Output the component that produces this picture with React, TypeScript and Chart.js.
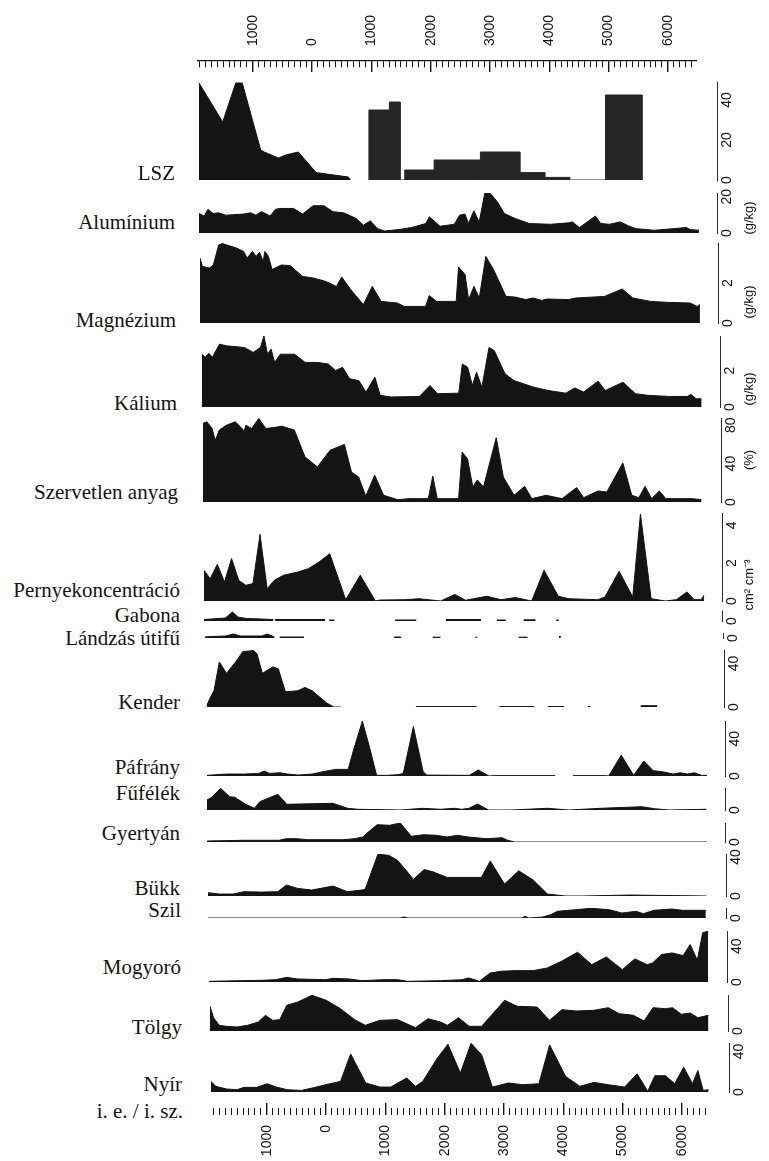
import React, { useEffect, useRef } from 'react';
import { Chart, registerables } from 'chart.js';
Chart.register(...registerables);
Chart.defaults.font.family = '"Liberation Sans", Arial, sans-serif';

// ---------------- DATA ----------------
// x values are years on the shared time axis (negative = left of "0")
const AXIS_MAJOR_TICKS = [-1000, 0, 1000, 2000, 3000, 4000, 5000, 6000];
const AXIS_TICK_LABELS = ['1000', '0', '1000', '2000', '3000', '4000', '5000', '6000'];
const AXIS_MINOR_FROM = -1900;
const AXIS_MINOR_TO = 6400;
const AXIS_MINOR_STEP = 100;
const AXIS_CAPTION = 'i. e. / i. sz.';

const SERIES_NAMES = ['LSZ', 'Alumínium', 'Magnézium', 'Kálium', 'Szervetlen anyag', 'Pernyekoncentráció',
  'Gabona', 'Lándzás útifű', 'Kender', 'Páfrány', 'Fűfélék', 'Gyertyán', 'Bükk', 'Szil', 'Mogyoró', 'Tölgy', 'Nyír'];
const SERIES_UNITS = ['', '(g/kg)', '(g/kg)', '(g/kg)', '(%)', 'cm² cm⁻³', '', '', '', '', '', '', '', '', '', '', ''];

const LSZ_TICKS = [0, 20, 40];
const LSZ_LINE_X = [-1940, -1540, -1320, -1210, -900, -840, -600, -480, -265, 35, 580, 610];
const LSZ_LINE_Y = [48.5, 29, 48.5, 48.5, 15, 14, 11, 12.5, 14, 3.7, 1.5, 0];
const LSZ_BAR_START = [925, 1270, 1530, 2025, 2805, 3470, 3890, 4915];
const LSZ_BAR_END = [1270, 1450, 2025, 2805, 3470, 3890, 4310, 5530];
const LSZ_BAR_VALUE = [35, 39, 5, 10, 14, 3.7, 1.3, 42.5];

const AL_TICKS = [0, 20];
const AL_X = [-1940, -1850, -1790, -1700, -1610, -1490, -1190, -1070, -980, -890, -800, -740, -650, -585, -345, -195, -15, 165, 320, 500, 710, 830, 950, 1070, 1190, 1430, 1645, 1885, 1945, 2125, 2365, 2455, 2545, 2605, 2695, 2785, 2880, 2970, 3090, 3210, 3390, 3630, 3990, 4295, 4355, 4475, 4745, 4835, 4985, 5165, 5315, 5435, 5740, 6280, 6340, 6490];
const AL_Y = [10.7, 9.3, 13, 10.7, 11.1, 9.8, 10.4, 11.1, 9.8, 11.7, 10.4, 9.3, 13, 13.5, 13.5, 10.4, 15, 15, 11.7, 11.1, 8, 4.3, 6.7, 2.4, 1.1, 1.9, 3, 5.2, 8.9, 3.7, 4.8, 9.8, 10.4, 5.2, 12.2, 6.1, 21.9, 21.9, 17.2, 10.7, 8, 5.2, 4.8, 5.6, 6.1, 3, 9.3, 5.2, 4.8, 6.1, 3.7, 2.4, 1.5, 3, 1.9, 1.5];

const MG_TICKS = [0, 2];
const MG_X = [-1940, -1900, -1780, -1715, -1625, -1565, -1325, -1205, -1145, -1055, -995, -935, -875, -845, -785, -725, -570, -420, -210, -30, 180, 360, 450, 600, 815, 965, 1115, 1385, 1505, 1865, 1925, 2050, 2380, 2420, 2530, 2590, 2680, 2770, 2880, 3010, 3220, 3370, 3555, 3675, 3825, 3915, 4275, 4395, 4880, 5180, 5360, 5660, 5960, 6325, 6445, 6490];
const MG_Y = [3.25, 2.83, 2.75, 2.9, 3.9, 3.97, 3.75, 3.58, 3.25, 3.58, 3.33, 3.53, 3.08, 3.58, 3.33, 2.67, 2.9, 2.87, 2.33, 2.25, 2.08, 1.83, 2.3, 1.67, 0.92, 1.83, 1.08, 1.0, 0.83, 0.83, 1.37, 1.08, 1.08, 2.8, 2.42, 1.17, 1.83, 1.25, 3.33, 2.67, 1.33, 1.3, 1.17, 1.25, 1.13, 1.2, 1.17, 1.25, 1.33, 1.7, 1.25, 1.08, 1.03, 1.0, 0.83, 0.92];

const K_TICKS = [0, 2];
const K_X = [-1940, -1885, -1825, -1765, -1645, -1525, -1225, -1075, -955, -895, -835, -775, -715, -620, -380, -200, 10, 190, 310, 430, 550, 705, 825, 975, 1065, 1245, 1725, 1905, 2030, 2390, 2450, 2540, 2620, 2690, 2780, 2900, 2990, 3170, 3320, 3655, 3895, 4195, 4345, 4495, 4740, 4860, 5160, 5370, 5580, 5940, 6245, 6305, 6395, 6485];
const K_Y = [2.9, 2.73, 2.95, 2.73, 3.45, 3.36, 3.27, 3.0, 3.27, 3.9, 2.9, 3.18, 2.45, 2.9, 2.9, 2.45, 2.45, 2.36, 2.0, 2.18, 1.55, 1.45, 0.82, 1.64, 0.64, 0.55, 0.58, 1.18, 0.73, 0.76, 2.36, 2.18, 1.18, 1.91, 1.09, 3.27, 3.09, 1.82, 1.45, 1.09, 0.91, 0.76, 1.05, 0.82, 1.42, 0.91, 1.36, 0.73, 0.64, 0.58, 0.58, 0.69, 0.45, 0.45];

const SZERV_TICKS = [0, 40, 80];
const SZERV_X = [-1940, -1875, -1785, -1735, -1665, -1545, -1395, -1305, -1245, -1215, -1120, -1000, -880, -700, -610, -400, -220, -10, 205, 445, 565, 685, 805, 955, 1105, 1345, 1530, 1860, 1935, 2010, 2370, 2430, 2520, 2610, 2685, 2790, 3005, 3125, 3305, 3485, 3605, 3845, 4115, 4360, 4480, 4720, 4870, 5140, 5290, 5410, 5515, 5625, 5755, 5865, 6315, 6465];
const SZERV_Y = [82, 83.5, 76.5, 64, 75, 80, 83.5, 78, 74, 80, 76.5, 87, 76.5, 78, 79, 75, 47, 36.5, 54, 60, 31, 26, 6, 28, 7, 2.4, 3.5, 3.5, 27, 3.5, 3.5, 52, 45, 15.7, 23, 15.7, 67, 26, 7, 16.3, 3.5, 7, 3.5, 15, 4.5, 11.5, 10.4, 40.7, 7, 4.5, 16.3, 3.5, 11.5, 3.5, 3.5, 2.4];

const PERNY_TICKS = [0, 2, 4];
const PERNY_X = [-1940, -1835, -1715, -1595, -1475, -1355, -1235, -1115, -995, -875, -755, -600, -360, -180, 0, 180, 450, 695, 950, 1025, 1445, 1685, 2050, 2290, 2470, 2830, 3070, 3310, 3585, 3795, 4035, 4215, 4700, 4820, 5060, 5290, 5420, 5600, 5840, 6025, 6205, 6325, 6445, 6490];
const PERNY_Y = [1.62, 1.18, 1.94, 1.0, 2.24, 1.09, 0.83, 0.92, 3.52, 0.65, 1.09, 1.36, 1.53, 1.71, 2.06, 2.5, 0.07, 1.36, 0, 0.05, 0.07, 0.12, 0, 0.35, 0.04, 0.25, 0.07, 0.18, 0, 1.62, 0.25, 0.12, 0.07, 0.21, 1.57, 0.21, 4.6, 0.12, 0, 0.07, 0.48, 0.07, 0.07, 0.3];

const GABONA_TICKS = [0];
const GABONA_X = [-1940, -1820, -1580, -1460, -1370, -1220, -980, -770, -755, -740, -300, 100, 135, 170, 260, 800, 1280, 1640, 1900, 2140, 2730, 2860, 3000, 3150, 3300, 3450, 3650, 3800, 4000, 4040];
const GABONA_Y = [1.5, 2, 3, 9, 4, 2.5, 2, 1.5, null, 1.5, 1.5, 1.5, null, 1, 1, null, 1, 1, null, 1.5, 1.5, null, 1, 1, null, 1.2, 1.2, null, 1, 1];

const LANDZAS_TICKS = [0];
const LANDZAS_X = [-1940, -1830, -1590, -1460, -1340, -980, -890, -770, -720, -680, -270, 500, 1250, 1370, 1600, 1900, 2030, 2300, 2620, 2650, 3000, 3350, 3500, 3800, 4030, 4060];
const LANDZAS_Y = [1, 1.5, 2, 4, 2, 2, 4, 1, null, 1, 1, null, 1, 1, null, 0.8, 0.8, null, 0.8, 0.8, null, 0.8, 0.8, null, 1.5, 1.5];

const KENDER_TICKS = [0, 40];
const KENDER_X = [-1925, -1865, -1805, -1715, -1595, -1440, -1320, -1140, -1080, -990, -900, -810, -720, -600, -390, -270, -150, 95, 215, 335, 960, 1600, 2620, 2800, 3010, 3590, 3700, 3830, 4100, 4300, 4500, 4540, 5000, 5390, 5670];
const KENDER_Y = [1.5, 9, 15, 41.5, 31, 41.5, 51, 52, 49, 31, 34, 37, 35, 14, 15, 18, 15, 3.7, 0, 0, null, 0.4, 0.4, null, 0.4, 0.4, null, 0.4, 0.4, null, 0.4, 0.4, null, 1.2, 1.2];

const PAFRANY_TICKS = [0, 40];
const PAFRANY_X = [-1940, -1610, -1310, -1070, -975, -885, -705, -585, -405, -165, 15, 225, 440, 530, 680, 800, 920, 1100, 1280, 1370, 1540, 1705, 1765, 2485, 2635, 2815, 2905, 3930, 3990, 4230, 4775, 4835, 5045, 5255, 5425, 5585, 5740, 5920, 6040, 6160, 6280, 6400, 6490];
const PAFRANY_Y = [0.7, 2.1, 2.1, 2.8, 5.3, 2.8, 3.5, 2.1, 1, 2.1, 4.6, 7.1, 7.1, 27.6, 58.8, 31, 0.7, 0.7, 1.4, 2.8, 53, 4.6, 1, 0.7, 6.4, 0, 0.4, 0.4, null, 0.4, 0.4, 0, 22.3, 0.7, 16, 5.7, 4.6, 2.1, 3.5, 2.1, 3.5, 0.7, 0.7];

const FUFELEK_TICKS = [0];
const FUFELEK_X = [-1940, -1860, -1710, -1560, -1470, -1290, -1140, -1050, -745, -595, 185, 430, 610, 1330, 1695, 1995, 2235, 2355, 2475, 2625, 2805, 3200, 3800, 4160, 4705, 5395, 5605, 5850, 6480];
const FUFELEK_Y = [10, 12.7, 21.7, 13.3, 12.7, 5.7, 1.7, 8.3, 15.7, 5.7, 6.7, 1.7, 0.7, 0, 1.7, 0.7, 1.7, 0.7, 1.7, 6, 0, 0, 1.7, 0, 1.7, 3.3, 1.3, 0, 0.7];

const GYERTYAN_TICKS = [0];
const GYERTYAN_X = [-1940, -1330, -725, -605, -425, -245, 360, 540, 690, 780, 930, 1140, 1320, 1505, 1715, 1925, 2105, 2285, 2465, 2770, 3040, 3130, 3250, 6490];
const GYERTYAN_Y = [1, 1.7, 1.7, 3.3, 3.3, 2.3, 2.3, 3.3, 5, 10, 17.3, 16.7, 19, 5.7, 7.3, 6.7, 5, 6.7, 5, 3.3, 4.3, 1.7, 0, 0];

const BUKK_TICKS = [0, 40];
const BUKK_X = [-1940, -1755, -1515, -1335, -1035, -765, -615, -430, -190, 170, 410, 650, 710, 925, 1105, 1255, 1375, 1525, 1705, 1855, 2095, 2670, 2820, 3060, 3300, 3545, 3785, 4085, 4385, 5170, 6465];
const BUKK_Y = [3.4, 2, 2, 4.4, 4, 4.4, 11.2, 7.8, 6.1, 10.2, 4.4, 6.1, 6.8, 42.7, 41.7, 36.6, 28.1, 17, 27.1, 24.7, 19, 19, 35.9, 12.2, 25.8, 16.3, 2, 0, 0, 1, 0];

const SZIL_TICKS = [0];
const SZIL_X = [-1940, 1300, 1365, 1430, 3350, 3410, 3470, 3710, 3835, 3955, 4255, 4525, 4825, 5040, 5280, 5400, 5580, 5880, 6060, 6455];
const SZIL_Y = [0, 0, 1, 0, 0, 1.7, 0, 1, 3.3, 6.7, 8.3, 9.7, 8.3, 5, 6.7, 4.3, 7.7, 9, 7.7, 7.7];

const MOGYORO_TICKS = [0, 40];
const MOGYORO_X = [-1940, -1415, -1055, -815, -630, -450, 30, 150, 420, 635, 995, 1235, 1415, 1960, 2320, 2440, 2620, 2800, 2980, 3220, 3525, 3765, 4005, 4275, 4515, 4760, 5030, 5240, 5450, 5540, 5690, 5870, 6055, 6175, 6295, 6385, 6475];
const MOGYORO_Y = [0.7, 1.5, 1.9, 2.6, 5.2, 3.4, 2.6, 4.1, 3.4, 1.5, 2.6, 2.6, 0.7, 1.5, 2.6, 4.5, 0.7, 10, 12, 12.7, 12.7, 15.7, 23.2, 33.3, 19.4, 28, 13.8, 25.8, 19.4, 21.3, 30.7, 32.5, 29.5, 41.9, 24.3, 55, 56.8];

const TOLGY_TICKS = [0];
const TOLGY_X = [-1940, -1880, -1785, -1665, -1485, -1305, -1125, -1005, -885, -765, -645, -460, -220, 20, 260, 500, 680, 925, 1225, 1525, 1735, 1945, 2065, 2250, 2430, 2640, 3030, 3240, 3575, 3785, 3995, 4235, 4535, 4775, 4960, 5200, 5380, 5530, 5740, 5860, 6010, 6160, 6285, 6465];
const TOLGY_Y = [24.7, 13.3, 5.7, 4.7, 4, 5.7, 9, 15.7, 10.7, 11.3, 25.7, 29, 35.7, 30.7, 22.3, 11.3, 5.7, 10.7, 11.3, 3.3, 12.3, 9, 5.7, 13.3, 4.7, 4.7, 30.7, 24.7, 24, 10.7, 21.3, 20, 20.7, 23.3, 17.3, 15.7, 10, 23.3, 22.3, 23.3, 16.7, 18, 13.3, 15.7];

const NYIR_TICKS = [0, 40];
const NYIR_X = [-1940, -1860, -1680, -1500, -1380, -1170, -990, -840, -655, -415, -235, 65, 245, 415, 670, 910, 1090, 1360, 1510, 1630, 1875, 2055, 2265, 2445, 2625, 2805, 3075, 3320, 3590, 3770, 4040, 4280, 4520, 4765, 5035, 5245, 5425, 5545, 5725, 5880, 6030, 6180, 6270, 6360, 6450];
const NYIR_Y = [10.5, 5.6, 3, 2.3, 4.6, 4.6, 8.2, 4.9, 2.3, 1.6, 3.9, 8.2, 10.5, 37.7, 8.9, 4.9, 4.9, 13.8, 5.6, 10.5, 33.4, 47.2, 18.7, 48.2, 36.7, 4.9, 8.9, 7.2, 8.2, 46.6, 15.4, 5.6, 9.5, 7.2, 4.9, 18, 0.7, 16.1, 16.1, 8.2, 24.6, 8.2, 21.3, 1.6, 2.3];

// ---------------- helpers ----------------
type P = { x: number; y: number | null };
const pts = (xs: number[], ys: (number | null)[]): P[] => xs.map((x, i) => ({ x, y: ys[i] }));
const bars = (a: number[], b: number[], v: number[]): P[] =>
  a.flatMap((s, i) => [{ x: s, y: 0 }, { x: s, y: v[i] }, { x: b[i], y: v[i] }, { x: b[i], y: 0 }]);

const SERIES: { points: P[][]; ticks: number[] }[] = [
  { points: [pts(LSZ_LINE_X, LSZ_LINE_Y), bars(LSZ_BAR_START, LSZ_BAR_END, LSZ_BAR_VALUE)], ticks: LSZ_TICKS },
  { points: [pts(AL_X, AL_Y)], ticks: AL_TICKS },
  { points: [pts(MG_X, MG_Y)], ticks: MG_TICKS },
  { points: [pts(K_X, K_Y)], ticks: K_TICKS },
  { points: [pts(SZERV_X, SZERV_Y)], ticks: SZERV_TICKS },
  { points: [pts(PERNY_X, PERNY_Y)], ticks: PERNY_TICKS },
  { points: [pts(GABONA_X, GABONA_Y)], ticks: GABONA_TICKS },
  { points: [pts(LANDZAS_X, LANDZAS_Y)], ticks: LANDZAS_TICKS },
  { points: [pts(KENDER_X, KENDER_Y)], ticks: KENDER_TICKS },
  { points: [pts(PAFRANY_X, PAFRANY_Y)], ticks: PAFRANY_TICKS },
  { points: [pts(FUFELEK_X, FUFELEK_Y)], ticks: FUFELEK_TICKS },
  { points: [pts(GYERTYAN_X, GYERTYAN_Y)], ticks: GYERTYAN_TICKS },
  { points: [pts(BUKK_X, BUKK_Y)], ticks: BUKK_TICKS },
  { points: [pts(SZIL_X, SZIL_Y)], ticks: SZIL_TICKS },
  { points: [pts(MOGYORO_X, MOGYORO_Y)], ticks: MOGYORO_TICKS },
  { points: [pts(TOLGY_X, TOLGY_Y)], ticks: TOLGY_TICKS },
  { points: [pts(NYIR_X, NYIR_Y)], ticks: NYIR_TICKS },
];

// ---------------- layout (pixels) ----------------
const W = 769, H = 1161;
const PLOT_LEFT = 197;
const AXIS_LINE_X = 715;
const TOP_AXIS_RIGHT = 697;
const X_MIN = -1940;
const PX_PER_YEAR = 0.0593;
const X_MAX_PANEL = X_MIN + (AXIS_LINE_X - PLOT_LEFT) / PX_PER_YEAR;
const X_MAX_AXIS = X_MIN + (TOP_AXIS_RIGHT - PLOT_LEFT) / PX_PER_YEAR;
const AXIS_W = 40;
const LABEL_GAP = 10;
const UNIT_X = 748;
const skew = (y: number) => ((y - 62) * 14) / 1050;
const INK = '#141414';
const NAME_SIZE = 21;

// baseline y, px per unit, scale top, label centre y, label right edge, unit y
const LAYOUT = [
  { base: 180, ppu: 2.0, top: 49, ly: 173, lr: 175, uy: 0 },
  { base: 233, ppu: 1.8, top: 22, ly: 222, lr: 175, uy: 218 },
  { base: 323, ppu: 20, top: 4.0, ly: 320, lr: 176, uy: 302 },
  { base: 407, ppu: 18.3, top: 3.9, ly: 403, lr: 177, uy: 389 },
  { base: 502, ppu: 0.958, top: 87.5, ly: 492, lr: 178, uy: 460 },
  { base: 601, ppu: 18.9, top: 4.65, ly: 590, lr: 180, uy: 585 },
  { base: 621, ppu: 1, top: 10, ly: 615, lr: 180, uy: 0 },
  { base: 638, ppu: 1, top: 5, ly: 638, lr: 180, uy: 0 },
  { base: 707, ppu: 1.083, top: 52.5, ly: 702, lr: 180, uy: 0 },
  { base: 776, ppu: 0.94, top: 59, ly: 767, lr: 180, uy: 0 },
  { base: 810, ppu: 1, top: 22, ly: 793, lr: 180, uy: 0 },
  { base: 842, ppu: 1, top: 19, ly: 833, lr: 180, uy: 0 },
  { base: 896, ppu: 0.983, top: 43, ly: 888, lr: 180, uy: 0 },
  { base: 918, ppu: 1, top: 10, ly: 910, lr: 181, uy: 0 },
  { base: 982, ppu: 0.89, top: 57, ly: 967, lr: 181, uy: 0 },
  { base: 1031, ppu: 1, top: 36, ly: 1027, lr: 182, uy: 0 },
  { base: 1092, ppu: 1.017, top: 48.5, ly: 1084, lr: 182, uy: 0 },
];

const PAD_T = 12, PAD_B = 12;
const tickFont = { family: '"Liberation Sans", Arial, sans-serif', size: 14 };

function Panel({ idx }: { idx: number }) {
  const ref = useRef<HTMLCanvasElement>(null);
  const L = LAYOUT[idx];
  const S = SERIES[idx];
  const s = skew(L.base);
  const plotH = L.top * L.ppu;
  const cw = AXIS_LINE_X - PLOT_LEFT + AXIS_W;
  const ch = Math.round(plotH + PAD_T + PAD_B);
  const top = Math.round(L.base - plotH - PAD_T);
  const digits = Math.max(...S.ticks.map((t) => String(t).length));
  const pad = Math.max(0, LABEL_GAP - digits * 3.9);
  useEffect(() => {
    const chart = new Chart(ref.current as HTMLCanvasElement, {
      type: 'line',
      data: {
        datasets: S.points.map((data, k) => ({
          data: data as any,
          borderColor: idx === 0 && k === 1 ? '#262626' : INK,
          backgroundColor: idx === 0 && k === 1 ? '#262626' : INK,
          borderWidth: 1,
          fill: 'origin',
          pointRadius: 0,
          tension: 0,
          spanGaps: false,
        })),
      },
      options: {
        animation: false,
        responsive: false,
        events: [],
        layout: { padding: { top: ch - Math.round(plotH) - PAD_B, bottom: PAD_B, left: 0, right: 0 } },
        plugins: { legend: { display: false }, tooltip: { enabled: false } },
        scales: {
          x: { type: 'linear', display: false, min: X_MIN, max: X_MAX_PANEL },
          y: {
            type: 'linear',
            position: 'right',
            min: 0,
            max: L.top,
            afterBuildTicks: (ax: any) => { ax.ticks = S.ticks.map((v) => ({ value: v })); },
            afterFit: (ax: any) => { ax.width = AXIS_W; ax.paddingTop = 0; ax.paddingBottom = 0; },
            grid: { display: false, drawTicks: false, drawOnChartArea: false },
            border: { display: true, color: '#2a2a2a', width: 1 },
            ticks: {
              autoSkip: false, minRotation: 90, maxRotation: 90, crossAlign: 'center',
              padding: pad, color: INK, font: tickFont,
            },
          },
        },
      } as any,
    });
    return () => chart.destroy();
  }, []);
  return (
    <canvas ref={ref} width={cw} height={ch}
      style={{ position: 'absolute', left: PLOT_LEFT + s, top, width: cw, height: ch }} />
  );
}

function TimeAxis({ where }: { where: 'top' | 'bottom' }) {
  const ref = useRef<HTMLCanvasElement>(null);
  const isTop = where === 'top';
  const s = isTop ? 0 : 14;
  const cw = TOP_AXIS_RIGHT - PLOT_LEFT;
  const ch = isTop ? 72 : 66;
  const top = isTop ? 0 : 1095;
  useEffect(() => {
    const isMajor = (c: any) => c && c.tick && AXIS_MAJOR_TICKS.indexOf(c.tick.value) >= 0;
    const chart = new Chart(ref.current as HTMLCanvasElement, {
      type: 'line',
      data: { datasets: [] },
      options: {
        animation: false,
        responsive: false,
        events: [],
        layout: { padding: { top: isTop ? 0 : 8, bottom: 0, left: 0, right: 0 } },
        plugins: { legend: { display: false }, tooltip: { enabled: false } },
        scales: {
          x: {
            type: 'linear',
            position: where,
            min: X_MIN,
            max: X_MAX_AXIS,
            afterBuildTicks: (ax: any) => {
              const t = [];
              for (let v = AXIS_MINOR_FROM; v <= AXIS_MINOR_TO; v += AXIS_MINOR_STEP) t.push({ value: v });
              ax.ticks = t;
            },
            afterFit: (ax: any) => { ax.height = isTop ? 61 : 46; ax.paddingLeft = 0; ax.paddingRight = 0; },
            grid: {
              display: true, drawOnChartArea: true, drawTicks: false, color: INK,
              lineWidth: (c: any) => (isMajor(c) ? 1.4 : 1),
            },
            border: {
              display: isTop, color: INK, width: 1.3,
              dash: (c: any) => (c && c.tick ? (isMajor(c) ? [] : isTop ? [6, 40] : [0, 5, 7, 40]) : []),
            },
            ticks: {
              autoSkip: false, minRotation: 90, maxRotation: 90, padding: isTop ? 15 : 10,
              labelOffset: isTop ? 16.8 : 0,
              color: INK, font: tickFont,
              callback: (v: any) => {
                const i = AXIS_MAJOR_TICKS.indexOf(Number(v));
                return i >= 0 ? AXIS_TICK_LABELS[i] : '';
              },
            },
          },
          y: { display: false, min: 0, max: 1 },
        },
      } as any,
    });
    return () => chart.destroy();
  }, []);
  return (
    <canvas ref={ref} width={cw} height={ch}
      style={{ position: 'absolute', left: PLOT_LEFT + s, top, width: cw, height: ch }} />
  );
}

const serif = '"Liberation Serif", "Times New Roman", serif';

export default function App() {
  return (
    <div style={{ position: 'absolute', left: 0, top: 0, width: W, height: H, overflow: 'hidden', background: '#fff' }}>
      <TimeAxis where="top" />
      {LAYOUT.map((_, i) => <Panel key={i} idx={i} />)}
      <TimeAxis where="bottom" />
      {LAYOUT.map((L, i) => (
        <div key={'l' + i} style={{
          position: 'absolute', right: W - L.lr, top: L.ly - NAME_SIZE / 2, fontFamily: serif, fontSize: NAME_SIZE,
          lineHeight: NAME_SIZE + 'px', color: INK, whiteSpace: 'nowrap',
        }}>{SERIES_NAMES[i]}</div>
      ))}
      <div style={{
        position: 'absolute', right: W - 183, top: 1111 - NAME_SIZE / 2, fontFamily: serif, fontSize: NAME_SIZE,
        lineHeight: NAME_SIZE + 'px', color: INK, whiteSpace: 'nowrap',
      }}>{AXIS_CAPTION}</div>
      {LAYOUT.map((L, i) => SERIES_UNITS[i] ? (
        <div key={'u' + i} style={{
          position: 'absolute', left: UNIT_X, top: L.uy, transform: 'translate(-50%, -50%) rotate(-90deg)',
          fontFamily: '"Liberation Sans", Arial, sans-serif', fontSize: 13, color: INK, whiteSpace: 'nowrap',
        }}>{SERIES_UNITS[i]}</div>
      ) : null)}
    </div>
  );
}
